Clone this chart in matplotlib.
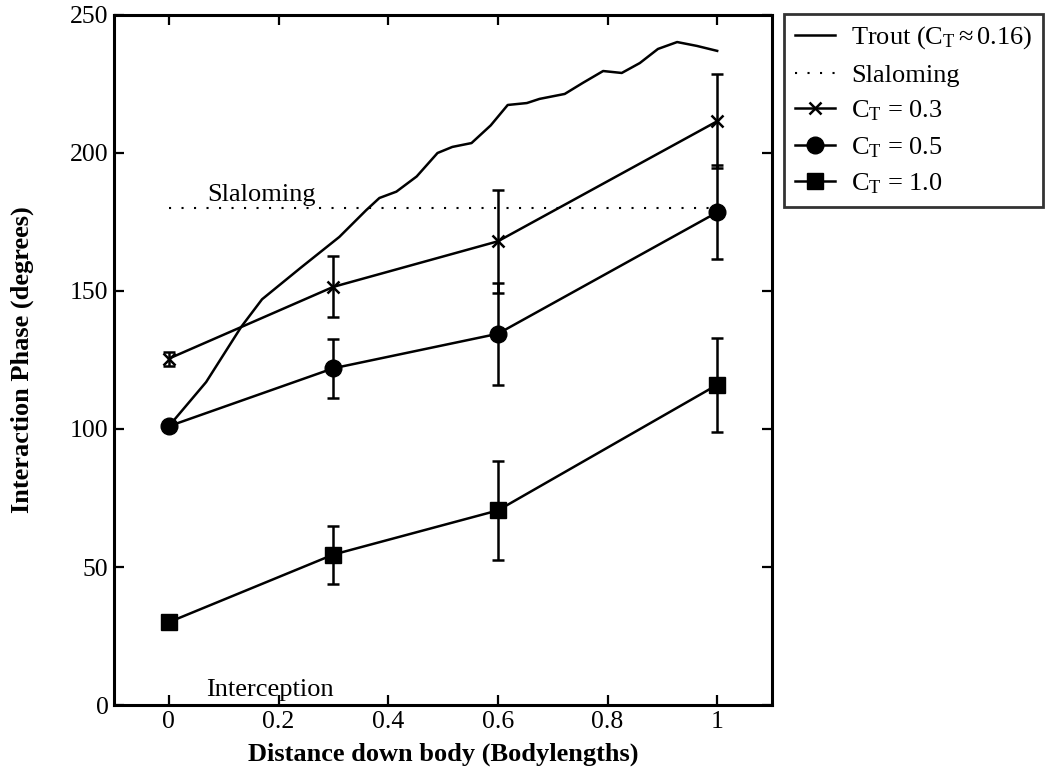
import matplotlib
matplotlib.use("Agg")
import matplotlib.pyplot as plt
from matplotlib.lines import Line2D

plt.rcParams["font.family"] = ["Liberation Serif", "DejaVu Serif"]
plt.rcParams["mathtext.fontset"] = "custom"
plt.rcParams["mathtext.rm"] = "Liberation Serif"
plt.rcParams["mathtext.it"] = "Liberation Serif:italic"
plt.rcParams["mathtext.bf"] = "Liberation Serif:bold"

# Measured trout interaction phase along the body
trout_x = [0, 0.068, 0.132, 0.17, 0.241, 0.311, 0.36, 0.384, 0.415, 0.452, 0.49,
           0.517, 0.552, 0.587, 0.618, 0.653, 0.676, 0.722, 0.755, 0.792, 0.826,
           0.859, 0.892, 0.927, 0.963, 1.0]
trout_y = [101, 117, 137, 147, 158.5, 169.6, 179.3, 183.7, 186, 191.5, 200,
           202.2, 203.6, 210, 217.4, 218.1, 219.6, 221.4, 225.4, 229.7, 229,
           232.6, 237.7, 240.2, 238.8, 237]

# Model results at four body positions
positions = [0, 0.3, 0.6, 1.0]
ct03 = [125.5, 151.5, 168, 211.5]
ct03_err = [2.5, 11, 18.7, 17]
ct05 = [101, 122, 134.5, 178.5]
ct05_err = [1, 10.6, 18.4, 17]
ct10 = [30, 54.5, 70.5, 116]
ct10_err = [1, 10.5, 18, 17]

slalom_phase = 180
slalom_x = [0, 1]

legend_labels = [r"Trout (C$_\mathrm{T}\approx$0.16)", "Slaloming",
                 r"C$_\mathrm{T}$ = 0.3", r"C$_\mathrm{T}$ = 0.5", r"C$_\mathrm{T}$ = 1.0"]

fig = plt.figure(figsize=(10.55, 7.74), dpi=100)
ax = fig.add_axes([114 / 1055, 1 - 705 / 774, (772 - 114) / 1055, (705 - 15) / 774])

lw = 1.8
dots = (0, (1, 5))
ax.plot(trout_x, trout_y, color="black", lw=lw)
ax.plot(slalom_x, [slalom_phase] * 2, color="black", lw=1.5, linestyle=dots)

eb = dict(color="black", lw=lw, elinewidth=lw, capsize=4.5, capthick=lw)
ax.errorbar(positions, ct03, yerr=ct03_err, marker="x", ms=9, mew=1.8, **eb)
ax.errorbar(positions, ct05, yerr=ct05_err, marker="o", ms=12, **eb)
ax.errorbar(positions, ct10, yerr=ct10_err, marker="s", ms=11, **eb)

ax.text(0.07, 182.6, "Slaloming", fontsize=19, ha="left", va="baseline")
ax.text(0.068, 3.3, "Interception", fontsize=19, ha="left", va="baseline")

ax.set_xlim(-0.1, 1.1)
ax.set_ylim(0, 250)
ax.set_xticks([0, 0.2, 0.4, 0.6, 0.8, 1])
ax.set_xticklabels(["0", "0.2", "0.4", "0.6", "0.8", "1"])
ax.set_yticks([0, 50, 100, 150, 200, 250])
ax.tick_params(direction="in", length=7, width=1.6, labelsize=18.5,
               top=True, right=True, pad=4)
for sp in ax.spines.values():
    sp.set_linewidth(2.2)

ax.set_xlabel("Distance down body (Bodylengths)", fontsize=19, fontweight="bold", labelpad=7)
ax.set_ylabel("Interaction Phase (degrees)", fontsize=19, fontweight="bold", labelpad=26)

handles = [
    Line2D([], [], color="black", lw=lw),
    Line2D([], [], color="black", lw=1.5, linestyle=dots),
    Line2D([], [], color="black", lw=lw, marker="x", ms=9, mew=1.8),
    Line2D([], [], color="black", lw=lw, marker="o", ms=12),
    Line2D([], [], color="black", lw=lw, marker="s", ms=11),
]
leg = fig.legend(handles, legend_labels, loc="upper left",
                 bbox_to_anchor=(784 / 1055, 1 - 14 / 774), fontsize=19,
                 frameon=True, fancybox=False, edgecolor="black",
                 handlelength=1.55, handletextpad=0.6, labelspacing=0.45,
                 borderpad=0.4, borderaxespad=0)
leg.get_frame().set_linewidth(2.0)

fig.savefig("out.png", dpi=100)
